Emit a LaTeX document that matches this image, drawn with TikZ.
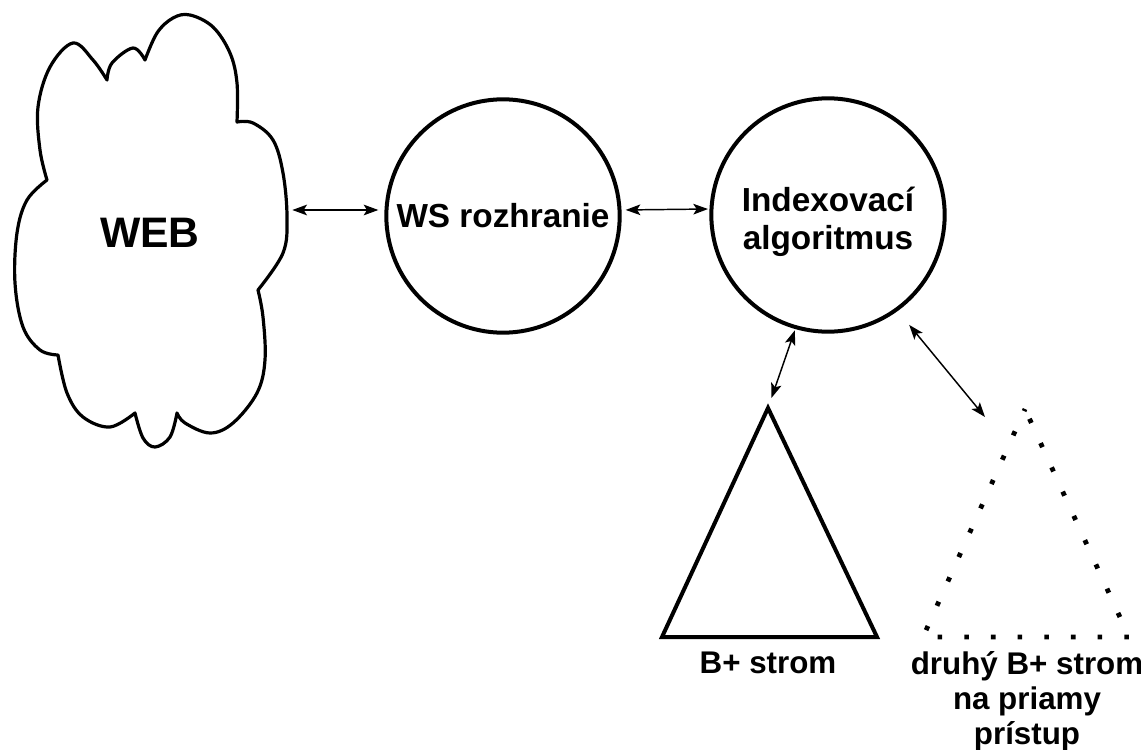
\documentclass[tikz,border=0pt]{standalone}
\usepackage{fontspec}
\setmainfont{Liberation Sans}
\usetikzlibrary{arrows.meta}
\begin{document}
\begin{tikzpicture}[x=0.75pt,y=-0.75pt,
  txt/.style={font=\bfseries\fontsize{25}{28}\selectfont, align=center, inner sep=0pt},
  small/.style={font=\bfseries\fontsize{23.5}{26}\selectfont, align=center, inner sep=0pt},
  proc/.style={circle, draw, line width=3pt, minimum size=175pt, inner sep=0pt},
  link/.style={line width=1.1pt, {Stealth[length=11pt,width=8pt,inset=2.5pt]}-{Stealth[length=11pt,width=8pt,inset=2.5pt]}},
  tree/.style={line width=3pt, line join=miter},
  dotted tree/.style={line width=3.6pt, line cap=butt, dash pattern=on 3.4pt off 16.6pt, dash phase=1.7pt}
]
\useasboundingbox (0,0) rectangle (1141,749);

% cloud outline, lobe by lobe between the cusps
\draw[line width=2.4pt, line join=round]
  plot[smooth, tension=0.6] coordinates {(145,60) (157,33) (173,18) (190,15) (213,27) (230,53) (237,83) (237,122)}
  -- plot[smooth, tension=0.6] coordinates {(237,122) (253,123) (273,140) (283,173) (287,217) (283,253) (258,290)}
  -- plot[smooth, tension=0.6] coordinates {(258,290) (263,317) (265,360) (257,393) (233,423) (210,433) (185,423) (177,413)}
  -- plot[smooth, tension=0.6] coordinates {(177,413) (170,437) (155,447) (143,438) (135,413)}
  -- plot[smooth, tension=0.6] coordinates {(135,413) (110,427) (83,417) (67,393) (58,355)}
  -- plot[smooth, tension=0.6] coordinates {(58,355) (40,350) (23,327) (15,283) (17,233) (27,200) (47,180)}
  -- plot[smooth, tension=0.6] coordinates {(47,180) (40,150) (38,107) (50,67) (73,43) (93,60) (107,80)}
  -- plot[smooth, tension=0.6] coordinates {(107,80) (112,63) (133,48) (145,60)}
  -- cycle;
\node[font=\bfseries\fontsize{32}{36}\selectfont, anchor=base, inner sep=0pt] (web) at (150,247) {WEB};
\coordinate (webR) at (287,210);

% processing units
\node[proc] (ws) at (503,216) {};
\node[txt, anchor=base] (wst) at (503,227) {WS rozhranie};
\node[proc] (idx) at (828,215) {};
\node[txt, anchor=base] (idxt) at (828,249) {Indexovací\\algoritmus};

% index trees
\coordinate (ta) at (768,408);
\coordinate (tl) at (662,637);
\coordinate (tr) at (877,637);
\draw[tree] (ta) -- (tl) -- (tr) -- cycle;

\coordinate (da) at (1025,409);
\coordinate (dl) at (923,637);
\coordinate (dr) at (1129,637);
\draw[dotted tree] (da) -- (dl) -- (dr) -- cycle;
\coordinate (dlink) at (985,417);

\node[small, anchor=base] (tlbl) at (768,673) {B+ strom};
\node[small, anchor=base] (dlbl) at (1027,744) {druhý B+ strom\\na priamy\\prístup};

% connectors
\draw[link, shorten <=4pt, shorten >=4.5pt] (webR) -- ([yshift=4.5pt]ws.west);
\draw[link, shorten <=3pt, shorten >=1pt] ([yshift=4.5pt]ws.east) -- ([yshift=4.5pt]idx.west);
\draw[link, shorten <=1pt, shorten >=8pt] (idx.254) -- (ta);
\draw[link, shorten <=13.5pt] (idx.-54.6) -- (dlink);
\end{tikzpicture}
\end{document}
